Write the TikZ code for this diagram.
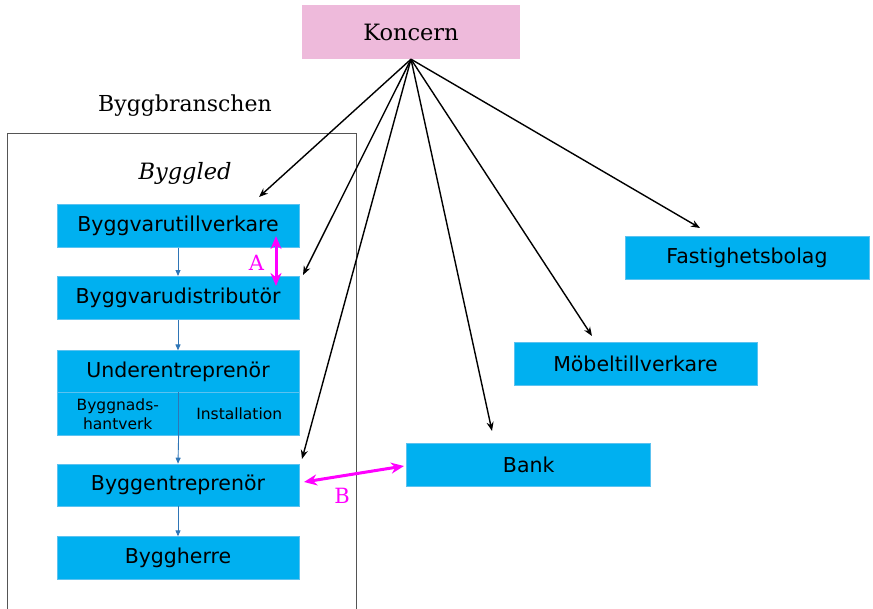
\documentclass[tikz,border=0pt]{standalone}
\usepackage{fontspec}
\setmainfont{DejaVu Serif}
\newfontfamily\boxfont{DejaVu Sans}
\usetikzlibrary{arrows.meta}
\definecolor{boxfill}{HTML}{00B0F0}
\definecolor{boxline}{HTML}{5CC2F0}
\definecolor{headfill}{HTML}{EEBADB}
\definecolor{flowblue}{HTML}{2E75B6}
\definecolor{relmag}{HTML}{FF00FF}
\definecolor{frame}{HTML}{555555}
\tikzset{
  blockbox/.style={fill=boxfill, draw=boxline, line width=0.6pt, inner sep=0pt,
    minimum width=242pt, minimum height=43pt,
    font=\boxfont\fontsize{20.5}{23}\selectfont},
  halfbox/.style={blockbox, minimum width=121pt,
    font=\boxfont\fontsize{15.5}{18.5}\selectfont, align=center},
  owner/.style={-{Stealth[length=9pt,width=7pt]}, line width=1.4pt, black},
  flow/.style={-{Triangle[length=6pt,width=5pt]}, line width=0.9pt, flowblue},
  relation/.style={{Stealth[length=13pt,width=11pt]}-{Stealth[length=13pt,width=11pt]}, line width=3pt, relmag},
  serifbig/.style={font=\fontsize{22}{26}\selectfont, inner sep=0pt},
  rellabel/.style={text=relmag, font=\fontsize{21}{25}\selectfont, inner sep=0pt}
}
\begin{document}
\begin{tikzpicture}[x=1pt,y=-1pt]
\useasboundingbox (0,0) rectangle (873,608);

% group label and frame
\node[serifbig] (grp) at (185,106) {Byggbranschen};
\draw[frame, line width=0.8pt] (7,610) -- (7,133) -- (356,133) -- (356,610);
\node[serifbig, font=\itshape\fontsize{22.5}{26}\selectfont] (led) at (185,173) {Byggled};

% parent company
\node[fill=headfill, inner sep=0pt, minimum width=218pt, minimum height=54pt,
      font=\fontsize{22.5}{26}\selectfont] (koncern) at (411,32) {Koncern};

% chain of the building sector
\node[blockbox] (tillv) at (178,225.8) {Byggvarutillverkare};
\node[blockbox] (distr) at (178,297.8) {Byggvarudistributör};
\node[blockbox, minimum height=41.6pt] (under) at (178,371.5) {Underentreprenör};
\node[halfbox, minimum height=43.4pt] (hantv) at (117.8,414) {Byggnads-\\hantverk};
\node[halfbox, minimum height=43.4pt] (install) at (239.2,414) {Installation};
\node[blockbox, minimum height=42pt] (entr) at (178,485) {Byggentreprenör};
\node[blockbox, minimum height=42.3pt] (herre) at (178,557.8) {Byggherre};

% other subsidiaries
\node[blockbox, minimum width=244pt] (fast) at (747,257.7) {Fastighetsbolag};
\node[blockbox, minimum width=243pt] (mobel) at (635.5,364) {Möbeltillverkare};
\node[blockbox, minimum width=244pt] (bank) at (528.7,464.5) {Bank};

% flow inside the chain
\draw[flow] (tillv.south) -- (distr.north);
\draw[flow] (distr.south) -- (under.north);
\draw[flowblue, line width=0.9pt] (hantv.north east) -- (hantv.south east);
\draw[flow] (hantv.south east) -- (entr.north);
\draw[flow] (entr.south) -- (herre.north);

% ownership arrows
\coordinate (o1) at (259,197);
\coordinate (o2) at (303,275);
\coordinate (o3) at (302,459);
\coordinate (o4) at (492,431);
\coordinate (o5) at (592,336);
\coordinate (o6) at (700,228);
\foreach \t in {o1,o2,o3,o4,o5,o6}
  \draw[owner] (koncern.south) -- (\t);

% relations A and B
\coordinate (a1) at (276,236);
\coordinate (a2) at (276,286);
\draw[relation] (a1) -- (a2);
\node[rellabel] (labA) at (256.5,263) {A};
\coordinate (b1) at (304,482);
\coordinate (b2) at (404,466);
\draw[relation] (b1) -- (b2);
\node[rellabel] (labB) at (342,496) {B};
\end{tikzpicture}
\end{document}
